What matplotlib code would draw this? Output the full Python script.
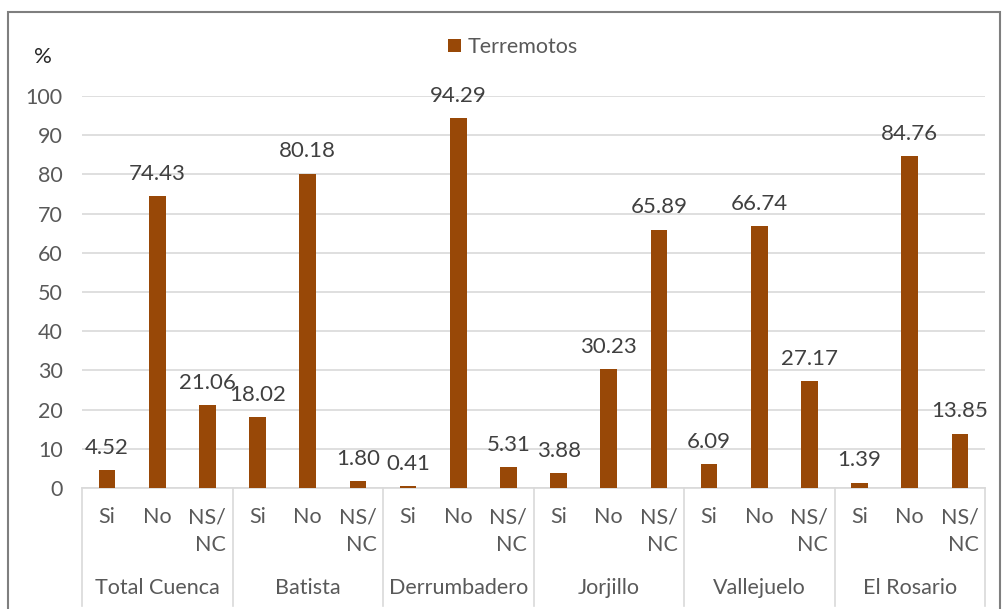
import matplotlib

matplotlib.use("Agg")
import matplotlib.pyplot as plt
from matplotlib.patches import Rectangle, Patch
from matplotlib.transforms import blended_transform_factory

plt.rcParams["font.family"] = ["Lato", "DejaVu Sans"]

groups = ["Total Cuenca", "Batista", "Derrumbadero", "Jorjillo", "Vallejuelo", "El Rosario"]
answers = ["Si", "No", "NS/\nNC"]
si_values = [4.52, 18.02, 0.41, 3.88, 6.09, 1.39]
no_values = [74.43, 80.18, 94.29, 30.23, 66.74, 84.76]
nsnc_values = [21.06, 1.80, 5.31, 65.89, 27.17, 13.85]
series_name = "Terremotos"
y_ticks = list(range(0, 101, 10))

bar_color = "#984807"
label_color = "#404040"
tick_color = "#595959"
grid_color = "#D9D9D9"

values = []
for s, n, x in zip(si_values, no_values, nsnc_values):
    values += [s, n, x]
labels = answers * len(groups)
positions = list(range(len(values)))

fig = plt.figure(figsize=(10.02, 6.09), dpi=100)
ax = fig.add_axes([82 / 1002, 1 - 488 / 609, (985 - 82) / 1002, (488 - 96) / 609])

ax.bar(positions, values, width=0.33, color=bar_color, zorder=3)
for x, v in zip(positions, values):
    ax.annotate(f"{v:.2f}", (x, v), xytext=(0, 16), textcoords="offset points",
                ha="center", va="center", fontsize=16, color=label_color)

ax.set_xlim(-0.5, len(values) - 0.5)
ax.set_ylim(0, 100)
ax.set_yticks(y_ticks)
ax.tick_params(axis="y", length=0, pad=14, labelsize=15.5, labelcolor=tick_color)
ax.grid(axis="y", color=grid_color, lw=1.2, zorder=0)
for side in ["left", "right", "top"]:
    ax.spines[side].set_visible(False)
ax.spines["bottom"].set_color(grid_color)
ax.spines["bottom"].set_linewidth(1.2)

ax.set_xticks(positions)
ax.set_xticklabels(labels, fontsize=15.5, color=tick_color, va="top", multialignment="right",
                   linespacing=1.5)
ax.tick_params(axis="x", length=0, pad=14)

trans = blended_transform_factory(ax.transData, ax.transAxes)
for i, g in enumerate(groups):
    ax.text(3 * i + 1, -0.255, g, transform=trans, ha="center", va="center",
            fontsize=15.5, color=tick_color)
for i in range(len(groups) + 1):
    ax.plot([3 * i - 0.5, 3 * i - 0.5], [0, -0.3], transform=trans, color=grid_color,
            lw=1.2, clip_on=False)

fig.text(43 / 1002, 1 - 57 / 609, "%", ha="center", va="center", fontsize=16, color="#262626")

handles = [Patch(facecolor=bar_color, label=series_name)]
fig.legend(handles=handles, loc="center", bbox_to_anchor=(513 / 1002, 1 - 47 / 609), frameon=False,
           fontsize=15.5, handlelength=0.6, handleheight=0.6, handletextpad=0.35,
           labelcolor=tick_color)

fig.patches.append(Rectangle((8 / 1002, -0.01), 992 / 1002, 1 - 12 / 609 + 0.01,
                             transform=fig.transFigure, fill=False, edgecolor="#7F7F7F", lw=1.5))

fig.savefig("out.png", dpi=100)
